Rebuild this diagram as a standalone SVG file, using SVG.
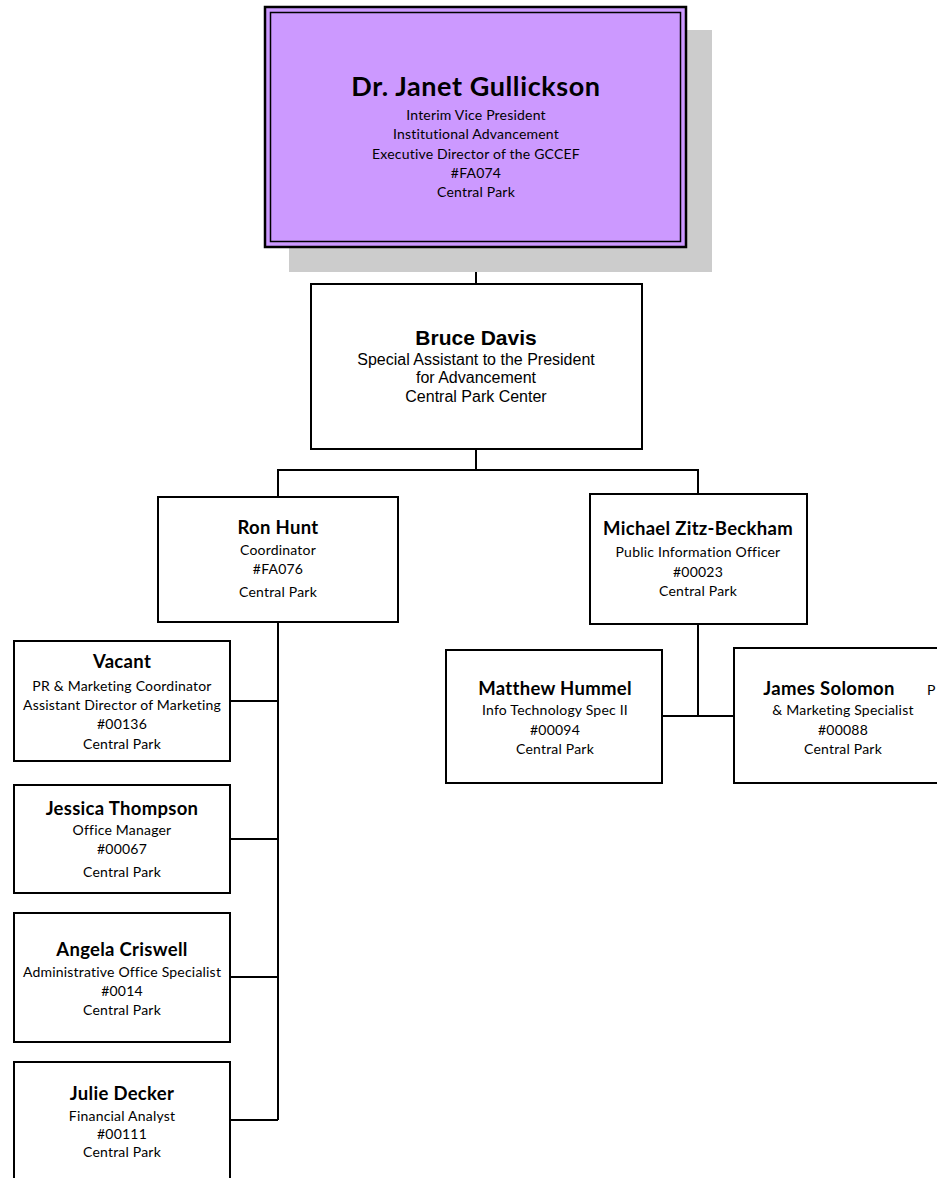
<svg xmlns="http://www.w3.org/2000/svg" width="937" height="1178" viewBox="0 0 937 1178">
<style>
.box{fill:#fff;stroke:#000;stroke-width:2}
.nm{font-family:Lato,"Liberation Sans",sans-serif;font-weight:bold;font-size:18.5px;letter-spacing:0.3px;text-anchor:middle;fill:#000}
.t{font-family:Lato,"Liberation Sans",sans-serif;font-size:14px;letter-spacing:0.2px;text-anchor:middle;fill:#000}
.an{font-family:"Liberation Sans",Arial,sans-serif;font-weight:bold;font-size:21px;text-anchor:middle;fill:#000}
.at{font-family:"Liberation Sans",Arial,sans-serif;font-size:16px;text-anchor:middle;fill:#000}
.c{fill:none;stroke:#000;stroke-width:2}
</style>
<rect width="937" height="1178" fill="#fff"/>
<g id="connectors">
<line class="c" x1="476" y1="247" x2="476" y2="284"/>
<line class="c" x1="476" y1="449" x2="476" y2="470"/>
<polyline class="c" points="278,497 278,470 698,470 698,494"/>
<line class="c" x1="698" y1="624" x2="698" y2="716"/>
<line class="c" x1="662" y1="716" x2="734" y2="716"/>
<line class="c" x1="278" y1="622" x2="278" y2="1120"/>
<line class="c" x1="230" y1="701" x2="278" y2="701"/>
<line class="c" x1="230" y1="839" x2="278" y2="839"/>
<line class="c" x1="230" y1="977" x2="278" y2="977"/>
<line class="c" x1="230" y1="1120" x2="278" y2="1120"/>
</g>
<g id="janet">
<rect x="289" y="30" width="423" height="242" fill="#cccccc"/>
<rect x="265" y="7" width="421" height="240" fill="#cc99ff" stroke="#000" stroke-width="2.5"/>
<rect x="270.5" y="12.5" width="410" height="229" fill="none" stroke="#000" stroke-width="1.5"/>
<text class="nm" x="476" y="96" style="font-size:27px;letter-spacing:0.6px">Dr. Janet Gullickson</text>
<text class="t" x="476" y="120">Interim Vice President</text>
<text class="t" x="476" y="139">Institutional Advancement</text>
<text class="t" x="476" y="159">Executive Director of the GCCEF</text>
<text class="t" x="476" y="178">#FA074</text>
<text class="t" x="476" y="197">Central Park</text>
</g>
<g id="bruce">
<rect class="box" x="311" y="284" width="331" height="165"/>
<text class="an" x="476" y="345">Bruce Davis</text>
<text class="at" x="476" y="365">Special Assistant to the President</text>
<text class="at" x="476" y="383">for Advancement</text>
<text class="at" x="476" y="402">Central Park Center</text>
</g>
<g id="ron">
<rect class="box" x="158" y="497" width="240" height="125"/>
<text class="nm" x="278" y="534">Ron Hunt</text>
<text class="t" x="278" y="555">Coordinator</text>
<text class="t" x="278" y="574">#FA076</text>
<text class="t" x="278" y="597">Central Park</text>
</g>
<g id="michael">
<rect class="box" x="590" y="494" width="217" height="130"/>
<text class="nm" x="698" y="535">Michael Zitz-Beckham</text>
<text class="t" x="698" y="557">Public Information Officer</text>
<text class="t" x="698" y="577">#00023</text>
<text class="t" x="698" y="596">Central Park</text>
</g>
<g id="matthew">
<rect class="box" x="446" y="650" width="216" height="133"/>
<text class="nm" x="555" y="695">Matthew Hummel</text>
<text class="t" x="555" y="715">Info Technology Spec II</text>
<text class="t" x="555" y="735">#00094</text>
<text class="t" x="555" y="754">Central Park</text>
</g>
<g id="james">
<rect class="box" x="734" y="648" width="220" height="135"/>
<text class="nm" x="829" y="695">James Solomon</text>
<text class="t" x="927" y="695" style="text-anchor:start">P</text>
<text class="t" x="843" y="715">&amp; Marketing Specialist</text>
<text class="t" x="843" y="735">#00088</text>
<text class="t" x="843" y="754">Central Park</text>
</g>
<g id="vacant">
<rect class="box" x="14" y="641" width="216" height="120"/>
<text class="nm" x="122" y="668">Vacant</text>
<text class="t" x="122" y="691">PR &amp; Marketing Coordinator</text>
<text class="t" x="122" y="710">Assistant Director of Marketing</text>
<text class="t" x="122" y="729">#00136</text>
<text class="t" x="122" y="749">Central Park</text>
</g>
<g id="jessica">
<rect class="box" x="14" y="785" width="216" height="108"/>
<text class="nm" x="122" y="815">Jessica Thompson</text>
<text class="t" x="122" y="835">Office Manager</text>
<text class="t" x="122" y="854">#00067</text>
<text class="t" x="122" y="877">Central Park</text>
</g>
<g id="angela">
<rect class="box" x="14" y="913" width="216" height="129"/>
<text class="nm" x="122" y="956">Angela Criswell</text>
<text class="t" x="122" y="977">Administrative Office Specialist</text>
<text class="t" x="122" y="996">#0014</text>
<text class="t" x="122" y="1015">Central Park</text>
</g>
<g id="julie">
<rect class="box" x="14" y="1062" width="216" height="130"/>
<text class="nm" x="122" y="1100">Julie Decker</text>
<text class="t" x="122" y="1121">Financial Analyst</text>
<text class="t" x="122" y="1139">#00111</text>
<text class="t" x="122" y="1157">Central Park</text>
</g>
</svg>
